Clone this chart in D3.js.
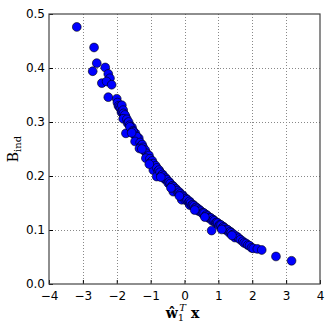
<!DOCTYPE html>
<html>
<head>
<meta charset="utf-8">
<script src="https://cdn.jsdelivr.net/npm/d3@7"></script>
<style>
  body { margin: 0; background: #fff; }
  svg { display: block; }
  .tick text { font-family: "DejaVu Sans", sans-serif; font-size: 12px; fill: #000; }
</style>
</head>
<body>
<div id="area"></div>
<script>
var width = 332,
    height = 332;

// plot frame (window.top is taken, so prefix these)
var plotLeft = 49, plotRight = 320, plotTop = 14, plotBottom = 284;

var xTicks = [-4, -3, -2, -1, 0, 1, 2, 3, 4];
var yTicks = [0.0, 0.1, 0.2, 0.3, 0.4, 0.5];
var xTickLabels = ['\u22124', '\u22123', '\u22122', '\u22121', '0', '1', '2', '3', '4'];
var yTickLabels = ['0.0', '0.1', '0.2', '0.3', '0.4', '0.5'];

// projections
var projX = [
  -3.18, -2.67, -2.59, -2.71, -2.34, -2.25, -2.20, -2.44, -2.30, -2.15, -2.25, -2.00,
  -1.98, -1.95, -1.92, -1.89, -1.86, -1.84, -1.85, -1.81, -1.80, -1.78, -1.74, -1.76, -1.81,
  -1.70, -1.68, -1.65, -1.73, -1.62, -1.58, -1.55, -1.61, -1.52, -1.48, -1.45, -1.51,
  -1.42, -1.38, -1.35, -1.41, -1.46, -1.31, -1.28, -1.25, -1.33, -1.22, -1.19, -1.16,
  -1.12, -1.08, -1.05, -1.14, -1.02, -0.98, -0.95, -0.92, -0.88, -0.85, -0.92,
  -0.82, -0.78, -0.75, -0.82, -0.72, -0.68, -0.65, -0.62, -0.58, -0.55,
  -0.52, -0.48, -0.45, -0.42, -0.38, -0.35, -0.32, -0.28, -0.25, -0.33,
  -0.22, -0.18, -0.15, -0.12, -0.08, -0.05, -0.08, -0.02, 0.02, 0.05,
  0.08, 0.12, 0.15, 0.16, 0.18, 0.22, 0.25, 0.28, 0.32, 0.35,
  0.38, 0.42, 0.45, 0.48, 0.52, 0.55, 0.58, 0.62, 0.65,
  0.68, 0.72, 0.75, 0.78, 0.82, 0.85, 0.80, 0.88, 0.92, 0.95,
  0.98, 1.02, 1.05, 1.08, 1.12, 1.15, 1.18, 1.22, 1.25,
  1.28, 1.32, 1.35, 1.38, 1.42, 1.45, 1.49, 1.54, 1.60, 1.65,
  1.72, 1.76, 1.82, 1.87, 1.92, 1.98, 2.03, 2.15, 2.28, 2.70, 3.16,
  -1.56, -1.26, -1.04, -0.70, -0.40, -0.15, 0.30, 0.60, 1.10, 1.40
];

var bInd = [
  0.476, 0.438, 0.409, 0.394, 0.401, 0.389, 0.381, 0.372, 0.375, 0.369, 0.346, 0.343,
  0.336, 0.330, 0.328, 0.325, 0.318, 0.320, 0.331, 0.322, 0.316, 0.309, 0.310, 0.313, 0.306,
  0.305, 0.298, 0.300, 0.279, 0.294, 0.289, 0.290, 0.291, 0.284, 0.277, 0.279, 0.282,
  0.273, 0.268, 0.270, 0.273, 0.264, 0.262, 0.256, 0.258, 0.251, 0.253, 0.247, 0.248,
  0.242, 0.236, 0.238, 0.233, 0.232, 0.226, 0.228, 0.223, 0.217, 0.219, 0.211,
  0.215, 0.209, 0.211, 0.199, 0.207, 0.201, 0.203, 0.200, 0.194, 0.196,
  0.193, 0.187, 0.189, 0.186, 0.181, 0.182, 0.180, 0.174, 0.176, 0.171,
  0.173, 0.168, 0.170, 0.167, 0.162, 0.164, 0.156, 0.161, 0.156, 0.158,
  0.156, 0.151, 0.153, 0.146, 0.150, 0.146, 0.147, 0.145, 0.141, 0.142,
  0.140, 0.135, 0.137, 0.135, 0.131, 0.132, 0.131, 0.126, 0.128,
  0.126, 0.122, 0.123, 0.122, 0.117, 0.119, 0.099, 0.117, 0.113, 0.114,
  0.113, 0.108, 0.110, 0.109, 0.104, 0.106, 0.104, 0.100, 0.101,
  0.100, 0.095, 0.097, 0.095, 0.091, 0.092, 0.086, 0.088, 0.085, 0.082,
  0.079, 0.076, 0.075, 0.072, 0.071, 0.067, 0.066, 0.065, 0.063, 0.051, 0.043,
  0.280, 0.250, 0.222, 0.198, 0.178, 0.163, 0.137, 0.124, 0.101, 0.090
];

var svg = d3.select('#area').append('svg')
    .attr('width', width)
    .attr('height', height);

var x = d3.scaleLinear().domain([-4, 4]).range([plotLeft, plotRight]);
var y = d3.scaleLinear().domain([0, 0.5]).range([plotBottom, plotTop]);

// dotted grid
var grid = svg.append('g').attr('class', 'grid');
grid.selectAll('line.gx')
    .data(xTicks.slice(1, -1))
    .enter().append('line')
    .attr('x1', function(d) { return Math.round(x(d)) + 0.5; })
    .attr('x2', function(d) { return Math.round(x(d)) + 0.5; })
    .attr('y1', plotTop).attr('y2', plotBottom)
    .attr('stroke', '#888').attr('stroke-width', 1)
    .attr('stroke-dasharray', '1,2');
grid.selectAll('line.gy')
    .data(yTicks.slice(1, -1))
    .enter().append('line')
    .attr('y1', function(d) { return Math.round(y(d)) + 0.5; })
    .attr('y2', function(d) { return Math.round(y(d)) + 0.5; })
    .attr('x1', plotLeft).attr('x2', plotRight)
    .attr('stroke', '#888').attr('stroke-width', 1)
    .attr('stroke-dasharray', '1,2');

// points
svg.append('g').selectAll('circle')
    .data(projX)
    .enter().append('circle')
    .attr('cx', function(d) { return x(d); })
    .attr('cy', function(d, i) { return y(bInd[i]); })
    .attr('r', 4.4)
    .attr('fill', '#0000ff')
    .attr('stroke', '#000')
    .attr('stroke-width', 0.6);

// axes, ticks pointing in
var xAxis = d3.axisBottom(x).tickValues(xTicks)
    .tickFormat(function(d, i) { return xTickLabels[i]; })
    .tickSizeInner(-4).tickSizeOuter(0).tickPadding(7);
var yAxis = d3.axisLeft(y).tickValues(yTicks)
    .tickFormat(function(d, i) { return yTickLabels[i]; })
    .tickSizeInner(-4).tickSizeOuter(0).tickPadding(4);

var gx = svg.append('g').attr('transform', 'translate(0,' + plotBottom + ')').call(xAxis);
var gy = svg.append('g').attr('transform', 'translate(' + plotLeft + ',0)').call(yAxis);
gx.select('.domain').remove();
gy.select('.domain').remove();
gx.selectAll('.tick line').attr('stroke', '#000');
gy.selectAll('.tick line').attr('stroke', '#000');

// frame
svg.append('rect')
    .attr('x', plotLeft).attr('y', plotTop)
    .attr('width', plotRight - plotLeft).attr('height', plotBottom - plotTop)
    .attr('fill', 'none')
    .attr('stroke', '#444')
    .attr('stroke-width', 1.2);

// y label
var ylab = svg.append('text')
    .attr('transform', 'translate(18,' + ((plotTop + plotBottom) / 2) + ') rotate(-90)')
    .attr('text-anchor', 'middle')
    .attr('font-family', '"DejaVu Serif", serif')
    .attr('font-size', 14);
ylab.append('tspan').text('B');
ylab.append('tspan').attr('font-size', 10).attr('dy', 3).text('ind');

// x label
var xlab = svg.append('text')
    .attr('x', (plotLeft + plotRight) / 2 - 2)
    .attr('y', 318)
    .attr('text-anchor', 'middle')
    .attr('font-family', '"DejaVu Serif", serif')
    .attr('font-weight', 'bold')
    .attr('font-size', 14);
xlab.append('tspan').text('\u0175');
xlab.append('tspan').attr('font-size', 10).attr('dy', 3).attr('font-weight', 'normal').text('1');
xlab.append('tspan').attr('font-size', 10).attr('dy', -10).attr('dx', -5).attr('font-weight', 'normal').attr('font-style', 'italic').text('T');
xlab.append('tspan').attr('dy', 7).attr('dx', 5).text('x');
</script>
</body>
</html>
